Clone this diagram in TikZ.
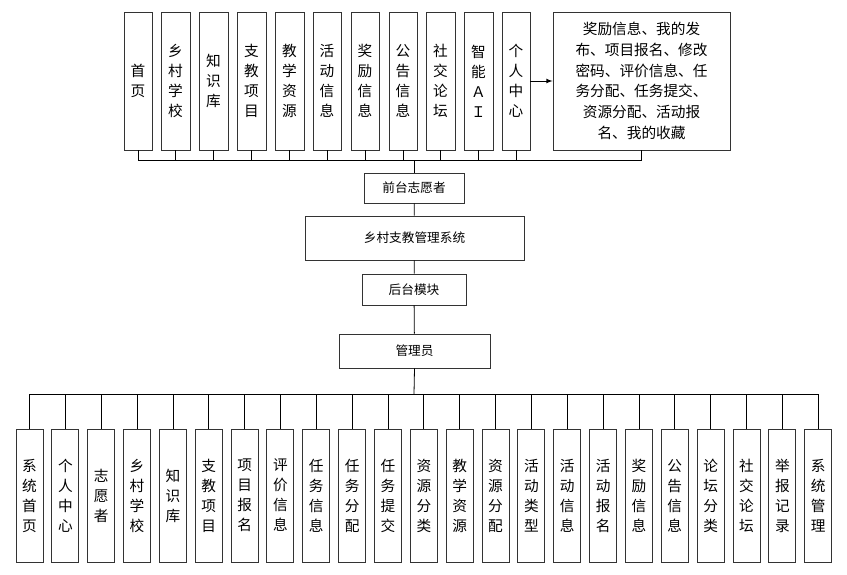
\documentclass[tikz,border=0pt]{standalone}
\usepackage{fontspec}
\setmainfont{Noto Sans CJK SC}
\begin{document}
\begin{tikzpicture}[x=0.75pt,y=-0.75pt,
  bx/.style={draw=black!80,line width=0.7pt,fill=white,inner sep=0pt,font=\fontsize{11}{15}\selectfont,align=center},
  ln/.style={draw=black,line width=0.6pt}]
\useasboundingbox (0,0) rectangle (847,575);
% top boxes
\foreach \x/\w/\t [count=\i] in {124/28/首\\页,161/29/乡\\村\\学\\校,199/29/知\\识\\库,237/29/支\\教\\项\\目,275/29/教\\学\\资\\源,313/28/活\\动\\信\\息,351/28/奖\\励\\信\\息,389/28/公\\告\\信\\息,426/29/社\\交\\论\\坛,464/29/智\\能\\Ａ\\Ｉ,502/28/个\\人\\中\\心}{
  \node[bx,minimum width=\w*0.75pt,minimum height=138*0.75pt] (t\i) at (\x+\w/2,81) {\t};
}
\node[bx,minimum width=177*0.75pt,minimum height=138*0.75pt,font=\fontsize{11}{15.5}\selectfont] (big) at (641.5,81) {奖励信息、我的发\\布、项目报名、修改\\密码、评价信息、任\\务分配、任务提交、\\资源分配、活动报\\名、我的收藏};
\draw[ln,-latex] (t11) -- (big);
\node[bx,minimum width=100*0.75pt,minimum height=30*0.75pt,font=\fontsize{9.5}{12}\selectfont] (fv) at (414,188) {前台志愿者};
\node[bx,minimum width=219*0.75pt,minimum height=44*0.75pt,font=\fontsize{9.5}{12}\selectfont] (sys) at (414.5,238) {乡村支教管理系统};
\node[bx,minimum width=104*0.75pt,minimum height=31*0.75pt,font=\fontsize{9.5}{12}\selectfont] (bk) at (414,289.5) {后台模块};
\node[bx,minimum width=151*0.75pt,minimum height=34*0.75pt,font=\fontsize{9.5}{12}\selectfont] (adm) at (414.5,351) {管理员};
\coordinate (tb) at (414,160);
\draw[ln] (t1.south) |- (tb) -- (fv.north);
\foreach \i in {1,...,11}{\draw[ln] (t\i.south) -- ++(0,-10*0.75pt);}
\draw[ln] (t1.south) ++(0,-10*0.75pt) -| (big.south);
\draw[ln] (fv) -- (sys); \draw[ln] (sys) -- (bk); \draw[ln] (bk) -- (adm);
% bottom
\coordinate (bb) at (414,394);
\draw[ln] (adm.south) -- (bb);
\foreach \t [count=\i] in {系\\统\\首\\页,个\\人\\中\\心,志\\愿\\者,乡\\村\\学\\校,知\\识\\库,支\\教\\项\\目,项\\目\\报\\名,评\\价\\信\\息,任\\务\\信\\息,任\\务\\分\\配,任\\务\\提\\交,资\\源\\分\\类,教\\学\\资\\源,资\\源\\分\\配,活\\动\\类\\型,活\\动\\信\\息,活\\动\\报\\名,奖\\励\\信\\息,公\\告\\信\\息,论\\坛\\分\\类,社\\交\\论\\坛,举\\报\\记\\录,系\\统\\管\\理}{
  \node[bx,minimum width=27*0.75pt,minimum height=133*0.75pt] (b\i) at ({29.5+(\i-1)*35.85},495.5) {\t};
  \draw[ln] (b\i.north) -- ({29.5+(\i-1)*35.85},394);
}
\draw[ln] (b1.north |- bb) -- (b23.north |- bb);
\end{tikzpicture}
\end{document}
